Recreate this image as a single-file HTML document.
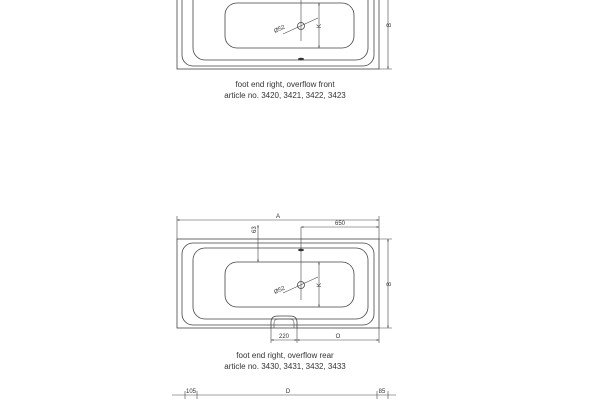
<!DOCTYPE html>
<html><head><style>body{margin:0;background:#fff;width:600px;height:400px;overflow:hidden}svg{display:block}text{font-family:"Liberation Sans",sans-serif;fill:#333}</style></head>
<body>
<svg width="600" height="400" viewBox="0 0 600 400" xmlns="http://www.w3.org/2000/svg">
<defs>
<marker id="a" viewBox="0 0 10 10" refX="10" refY="5" markerWidth="5" markerHeight="4" orient="auto-start-reverse"><path d="M0,2 L10,5 L0,8z" fill="#333"/></marker>
<g id="tub" fill="none" stroke="#444" stroke-width="0.8">
<rect x="177" y="239" width="202" height="89"/>
<rect x="182" y="243" width="192" height="82" rx="11"/>
<rect x="193" y="248" width="175" height="71" rx="12"/>
<rect x="225" y="262" width="129" height="45" rx="12"/>
<line x1="301" y1="227" x2="301" y2="300" stroke-width="0.6"/>
<circle cx="301" cy="285" r="3.5"/>
<line x1="283" y1="293" x2="318" y2="277" stroke-width="0.6"/>
<line x1="319" y1="262" x2="319" y2="307" stroke-width="0.6" marker-start="url(#a)" marker-end="url(#a)"/>
<line x1="388" y1="239" x2="388" y2="328" stroke-width="0.6" marker-start="url(#a)" marker-end="url(#a)"/>
<line x1="379" y1="239" x2="392" y2="239" stroke-width="0.5"/>
<line x1="379" y1="328" x2="392" y2="328" stroke-width="0.5"/>
</g>
</defs>
<!-- top drawing -->
<g transform="translate(0,-259)">
<use href="#tub"/>
<ellipse cx="301" cy="318" rx="3" ry="1.2" fill="#333"/>
<text x="275" y="292" font-size="6" transform="rotate(-25 275 292)">Ø52</text>
<text x="321" y="287" font-size="6" transform="rotate(-90 321 287)">K</text>
<text x="391" y="286" font-size="6" transform="rotate(-90 391 286)">B</text>
</g>
<text x="285" y="87" font-size="8" text-anchor="middle">foot end right, overflow front</text>
<text x="285" y="98" font-size="8" text-anchor="middle">article no. 3420, 3421, 3422, 3423</text>
<!-- bottom drawing -->
<use href="#tub"/>
<ellipse cx="301" cy="250" rx="3" ry="1.2" fill="#333"/>
<path d="M271,328 V322 Q271,316 278,316 H290 Q297,316 297,322 V328" fill="none" stroke="#444" stroke-width="0.8"/>
<path d="M274,328 V323 Q274,319 279,319 H289 Q294,319 294,323 V328" fill="none" stroke="#444" stroke-width="0.6"/>
<g stroke="#444" stroke-width="0.6" fill="none">
<line x1="177" y1="220" x2="379" y2="220" marker-start="url(#a)" marker-end="url(#a)"/>
<line x1="177" y1="216" x2="177" y2="239"/><line x1="379" y1="216" x2="379" y2="239"/>
<line x1="301" y1="227" x2="379" y2="227" marker-start="url(#a)" marker-end="url(#a)"/>
<line x1="258" y1="225" x2="258" y2="262" marker-start="url(#a)" marker-end="url(#a)"/>
<line x1="271" y1="328" x2="271" y2="343"/><line x1="297" y1="328" x2="297" y2="343"/><line x1="379" y1="328" x2="379" y2="343"/>
<line x1="271" y1="340" x2="297" y2="340" marker-start="url(#a)" marker-end="url(#a)"/>
<line x1="297" y1="340" x2="379" y2="340" marker-start="url(#a)" marker-end="url(#a)"/>
<line x1="172" y1="395" x2="396" y2="395"/>
<line x1="185" y1="391" x2="185" y2="399"/><line x1="197" y1="391" x2="197" y2="399"/>
<line x1="377" y1="391" x2="377" y2="399"/><line x1="388" y1="391" x2="388" y2="399"/>
</g>
<text x="278" y="218" font-size="6" text-anchor="middle">A</text>
<text x="340" y="225" font-size="6" text-anchor="middle">650</text>
<text x="256" y="233" font-size="6" transform="rotate(-90 256 233)">63</text>
<text x="275" y="294" font-size="6" transform="rotate(-25 275 294)">Ø52</text>
<text x="321" y="287" font-size="6" transform="rotate(-90 321 287)">K</text>
<text x="391" y="286" font-size="6" transform="rotate(-90 391 286)">B</text>
<text x="284" y="338" font-size="6" text-anchor="middle">220</text>
<text x="338" y="338" font-size="6" text-anchor="middle">O</text>
<text x="285" y="358" font-size="8" text-anchor="middle">foot end right, overflow rear</text>
<text x="285" y="369" font-size="8" text-anchor="middle">article no. 3430, 3431, 3432, 3433</text>
<text x="191" y="393" font-size="6" text-anchor="middle">105</text>
<text x="288" y="393" font-size="6" text-anchor="middle">D</text>
<text x="382" y="393" font-size="6" text-anchor="middle">85</text>
</svg>
</body></html>
